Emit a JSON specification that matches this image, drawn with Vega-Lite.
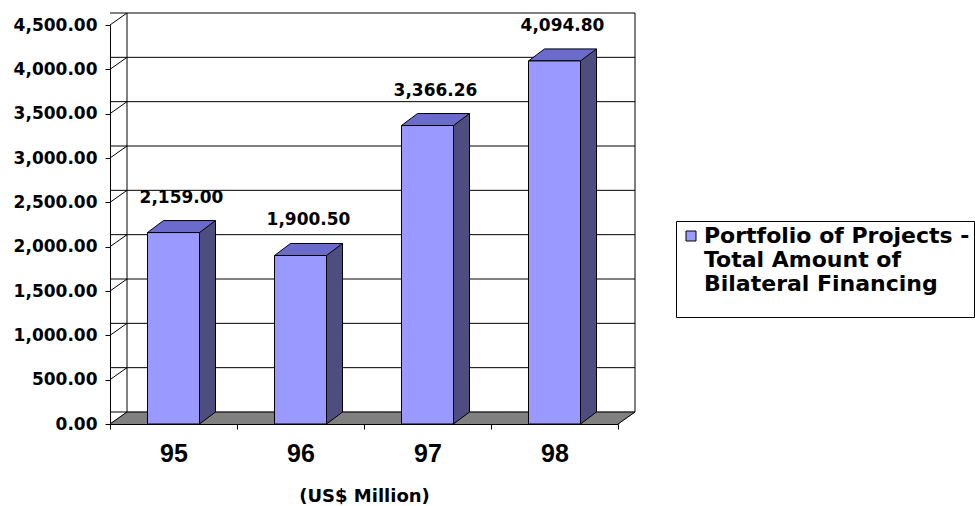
{
  "$schema": "https://vega.github.io/schema/vega-lite/v6.json",
  "width": 508,
  "height": 399,
  "autosize": "none",
  "padding": {"left": 110, "top": 25, "right": 357, "bottom": 82},
  "background": "white",
  "config": {"view": {"stroke": null}},
  "datasets": {
    "bars": [
      {"year": "95", "value": 2159.00, "series": "Portfolio of Projects - Total Amount of Bilateral Financing"},
      {"year": "96", "value": 1900.50, "series": "Portfolio of Projects - Total Amount of Bilateral Financing"},
      {"year": "97", "value": 3366.26, "series": "Portfolio of Projects - Total Amount of Bilateral Financing"},
      {"year": "98", "value": 4094.80, "series": "Portfolio of Projects - Total Amount of Bilateral Financing"}
    ],
    "ticks": [
      {"v": 0}, {"v": 500}, {"v": 1000}, {"v": 1500}, {"v": 2000},
      {"v": 2500}, {"v": 3000}, {"v": 3500}, {"v": 4000}, {"v": 4500}
    ]
  },
  "data": {"name": "bars"},
  "layer": [
    {
      "mark": {"type": "point", "shape": "M -63.5 0 L 63.5 0 L 80.5 -12 L -46.5 -12 Z", "size": 4, "filled": true, "fill": "#808080", "stroke": "#808080", "strokeWidth": 1, "opacity": 1},
      "encoding": {
        "x": {"field": "year", "type": "ordinal", "scale": {"paddingInner": 0, "paddingOuter": 0},
          "axis": {"labelAngle": 0, "tickBand": "extent", "tickSize": 5, "tickColor": "black", "domainColor": "black",
            "labelFont": "Liberation Sans", "labelFontWeight": "bold", "labelFontSize": 25, "labelColor": "black", "labelPadding": 12,
            "title": "(US$ Million)", "titleFont": "DejaVu Sans", "titleFontWeight": "bold", "titleFontSize": 18, "titleColor": "black", "titlePadding": 21, "zindex": 1}},
        "y": {"datum": 0, "type": "quantitative"}
      }
    },
    {
      "data": {"name": "ticks"},
      "mark": {"type": "rule", "color": "black", "strokeWidth": 1, "xOffset": 17, "x2Offset": 17, "yOffset": -12},
      "encoding": {
        "y": {"field": "v", "type": "quantitative", "scale": {"domain": [0, 4500], "nice": false},
          "axis": {"values": [0, 500, 1000, 1500, 2000, 2500, 3000, 3500, 4000, 4500], "format": ",.2f", "grid": false, "title": null,
            "tickSize": 5, "tickColor": "black", "domainColor": "black", "labelPadding": 8,
            "labelFont": "DejaVu Sans", "labelFontWeight": "bold", "labelFontSize": 17, "labelColor": "black"}}
      }
    },
    {
      "transform": [{"filter": "datum.year == '95'"}],
      "mark": {"type": "rule", "color": "black", "strokeWidth": 1, "xOffset": -46.5, "yOffset": -12, "y2Offset": -12},
      "encoding": {
        "x": {"field": "year", "type": "ordinal"},
        "y": {"datum": 0, "type": "quantitative"},
        "y2": {"datum": 4500}
      }
    },
    {
      "transform": [{"filter": "datum.year == '98'"}],
      "mark": {"type": "rule", "color": "black", "strokeWidth": 1, "xOffset": 80.5, "yOffset": -12, "y2Offset": -12},
      "encoding": {
        "x": {"field": "year", "type": "ordinal"},
        "y": {"datum": 0, "type": "quantitative"},
        "y2": {"datum": 4500}
      }
    },
    {
      "data": {"name": "ticks"},
      "mark": {"type": "point", "shape": "M -63.5 0 L -46.5 -12", "size": 4, "filled": false, "stroke": "black", "strokeWidth": 1, "opacity": 1},
      "encoding": {
        "x": {"datum": "95", "type": "ordinal"},
        "y": {"field": "v", "type": "quantitative"}
      }
    },
    {
      "transform": [{"filter": "datum.year == '98'"}],
      "mark": {"type": "point", "shape": "M 63.5 0 L 80.5 -12", "size": 4, "filled": false, "stroke": "black", "strokeWidth": 1, "opacity": 1},
      "encoding": {
        "x": {"field": "year", "type": "ordinal"},
        "y": {"datum": 0, "type": "quantitative"}
      }
    },
    {
      "mark": {"type": "bar", "width": 16, "xOffset": 34, "yOffset": -12, "y2Offset": -12, "fill": "#4d4d80", "strokeWidth": 0},
      "encoding": {
        "x": {"field": "year", "type": "ordinal"},
        "y": {"field": "value", "type": "quantitative"}
      }
    },
    {
      "mark": {"type": "point", "shape": "M 26 0 L 26 -12 L 42 -12 Z", "size": 4, "filled": true, "fill": "#4d4d80", "strokeWidth": 0, "opacity": 1},
      "encoding": {
        "x": {"field": "year", "type": "ordinal"},
        "y": {"datum": 0, "type": "quantitative"}
      }
    },
    {
      "mark": {"type": "rule", "color": "black", "strokeWidth": 1, "xOffset": 42, "yOffset": -12, "y2Offset": -12},
      "encoding": {
        "x": {"field": "year", "type": "ordinal"},
        "y": {"field": "value", "type": "quantitative"},
        "y2": {"datum": 0}
      }
    },
    {
      "mark": {"type": "point", "shape": "M 26 0 L 42 -12", "size": 4, "filled": false, "stroke": "black", "strokeWidth": 1, "opacity": 1},
      "encoding": {
        "x": {"field": "year", "type": "ordinal"},
        "y": {"datum": 0, "type": "quantitative"}
      }
    },
    {
      "mark": {"type": "point", "shape": "M -26 0 L -10 -12 L 42 -12 L 26 0 Z", "size": 4, "filled": true, "fill": "#6b6bcc", "stroke": "black", "strokeWidth": 1, "opacity": 1},
      "encoding": {
        "x": {"field": "year", "type": "ordinal"},
        "y": {"field": "value", "type": "quantitative"}
      }
    },
    {
      "mark": {"type": "bar", "width": 52, "stroke": "black", "strokeWidth": 1, "opacity": 1},
      "encoding": {
        "x": {"field": "year", "type": "ordinal"},
        "y": {"field": "value", "type": "quantitative"},
        "color": {"field": "series", "type": "nominal", "scale": {"range": ["#9999ff"]},
          "legend": {"title": " ", "titleOrient": "bottom", "titleFontSize": 14, "titlePadding": 4,
            "orient": "none", "legendX": 566, "legendY": 196,
            "symbolType": "square", "symbolSize": 100, "symbolStrokeColor": "black", "symbolStrokeWidth": 1,
            "labelFont": "DejaVu Sans", "labelFontWeight": "bold", "labelFontSize": 22, "labelColor": "black", "labelLimit": 500, "labelOffset": 2,
            "labelExpr": "['Portfolio of Projects -', 'Total Amount of', 'Bilateral Financing']",
            "strokeColor": "black", "fillColor": "white", "padding": 4}}
      }
    },
    {
      "mark": {"type": "text", "dx": 8, "dy": -30, "font": "DejaVu Sans", "fontWeight": "bold", "fontSize": 17, "color": "black", "baseline": "alphabetic", "align": "center"},
      "encoding": {
        "x": {"field": "year", "type": "ordinal"},
        "y": {"field": "value", "type": "quantitative"},
        "text": {"field": "value", "type": "quantitative", "format": ",.2f"}
      }
    }
  ]
}
